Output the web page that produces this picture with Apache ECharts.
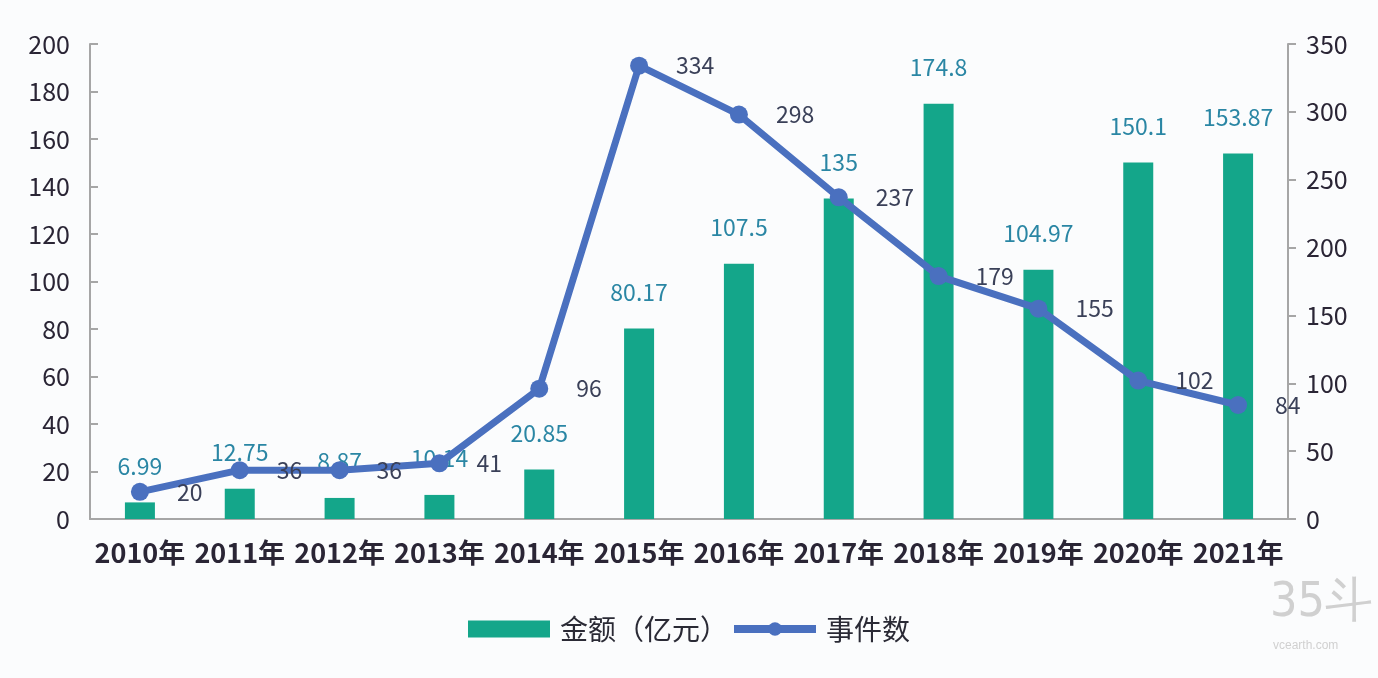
<!DOCTYPE html>
<html>
<head>
<meta charset="utf-8">
<script src="https://cdn.jsdelivr.net/npm/echarts@6/dist/echarts.min.js"></script>
<style>
html,body{margin:0;padding:0;background:#fbfcfd;}
#main{width:1378px;height:678px;}
</style>
</head>
<body>
<div id="main"></div>
<script>
const categories = ['2010年','2011年','2012年','2013年','2014年','2015年','2016年','2017年','2018年','2019年','2020年','2021年'];
const amountValues = [6.99, 12.75, 8.87, 10.14, 20.85, 80.17, 107.5, 135, 174.8, 104.97, 150.1, 153.87];
const eventValues = [20, 36, 36, 41, 96, 334, 298, 237, 179, 155, 102, 84];
const amountName = '金额（亿元）';
const eventName = '事件数';

const FONT = '"Noto Sans CJK SC", "Noto Sans", sans-serif';
const chart = echarts.init(document.getElementById('main'));
chart.setOption({
  backgroundColor: '#fbfcfd',
  textStyle: { fontFamily: FONT },
  animation: false,
  grid: { left: 90, right: 90, top: 44, bottom: 159 },
  legend: {
    bottom: 30,
    left: 463,
    itemWidth: 82,
    itemHeight: 17,
    itemGap: 2,
    textStyle: { fontSize: 28, color: '#2a2a35', fontFamily: FONT, padding: [0, 0, 0, 5] },
    data: [
      { name: amountName, icon: 'rect', itemStyle: { color: '#14a68a' } },
      { name: eventName, lineStyle: { width: 8, color: '#4a70bf' }, itemStyle: { color: '#4a70bf' } }
    ]
  },
  xAxis: {
    type: 'category',
    data: categories,
    axisLine: { lineStyle: { color: '#a6a6a6', width: 2 } },
    axisTick: { show: false },
    axisLabel: { fontSize: 27, fontWeight: 'bold', color: '#2a2535', margin: 20, interval: 0 }
  },
  yAxis: [
    {
      type: 'value', min: 0, max: 200, interval: 20,
      splitLine: { show: false },
      axisLine: { show: true, lineStyle: { color: '#a6a6a6', width: 2 } },
      axisTick: { show: true, inside: true, length: 8, lineStyle: { color: '#a6a6a6', width: 2 } },
      axisLabel: { fontSize: 25, color: '#2a2535', margin: 20 }
    },
    {
      type: 'value', min: 0, max: 350, interval: 50,
      splitLine: { show: false },
      axisLine: { show: true, lineStyle: { color: '#a6a6a6', width: 2 } },
      axisTick: { show: true, length: 8, lineStyle: { color: '#a6a6a6', width: 2 } },
      axisLabel: { fontSize: 25, color: '#2a2535', margin: 18 }
    }
  ],
  series: [
    {
      name: amountName,
      type: 'bar',
      data: amountValues,
      barWidth: 30,
      itemStyle: { color: '#14a68a' },
      z: 2,
      label: { show: true, position: 'top', distance: 25, fontSize: 23, color: '#2a86a4' }
    },
    {
      name: eventName,
      type: 'line',
      yAxisIndex: 1,
      data: eventValues,
      symbol: 'circle',
      symbolSize: 18,
      lineStyle: { color: '#4a70bf', width: 7 },
      itemStyle: { color: '#4a70bf' },
      z: 3,
      label: { show: true, position: 'right', distance: 28, fontSize: 23, color: '#3a4058' }
    }
  ],
  graphic: [
    { type: 'text', left: 1270, top: 580, style: { text: '35斗', fontSize: 48, fill: '#d0d0d0', fontFamily: '"DejaVu Sans Condensed", sans-serif', fontWeight: 'lighter' } },
    { type: 'text', left: 1273, top: 640, style: { text: 'vcearth.com', fontSize: 12, fill: '#d0d0d0', fontFamily: 'sans-serif' } }
  ]
});
</script>
</body>
</html>
